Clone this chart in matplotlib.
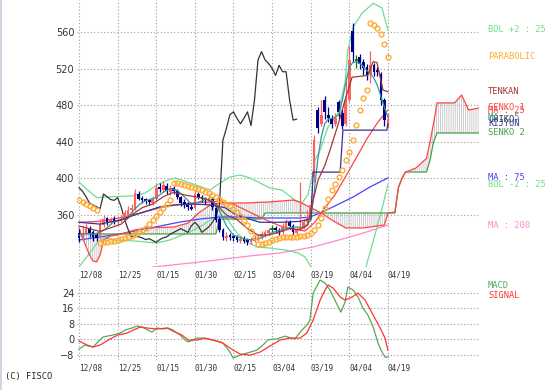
import numpy as np
import matplotlib
matplotlib.use('Agg')
import matplotlib.pyplot as plt
from matplotlib.lines import Line2D

# ---- price data (trading day index 0..88) ----
close = [
    335, 340, 345, 340, 336, 335, 350, 356, 352, 355,
    353, 354, 356, 362, 366, 368, 384, 378, 376, 375,
    374, 378, 390, 388, 393, 386, 390, 386, 380, 373,
    371, 369, 367, 383, 380, 377, 376, 379, 369, 355,
    344, 336, 337, 336, 335, 333, 334, 332, 330, 333,
    335, 336, 339, 341, 343, 345, 343, 341, 348, 352,
    348, 341, 344, 347, 352, 358, 371, 442, 455, 470,
    473, 466, 460, 466, 473, 458, 486, 530, 539, 530,
    526, 521, 513, 524, 517, 517, 486, 464, 465]
opens = [
    340, 336, 340, 346, 341, 338, 336, 349, 357, 352,
    356, 352, 354, 355, 360, 365, 367, 383, 379, 377,
    376, 373, 377, 391, 387, 392, 385, 390, 386, 380,
    374, 372, 369, 368, 383, 380, 378, 375, 378, 368,
    356, 343, 335, 338, 337, 336, 332, 335, 333, 330,
    332, 334, 336, 338, 340, 345, 346, 344, 341, 347,
    352, 348, 340, 344, 347, 352, 358, 402, 475, 460,
    486, 470, 466, 460, 484, 472, 460, 486, 562, 530,
    533, 528, 522, 514, 524, 519, 515, 486, 458]
high = [
    345, 348, 350, 348, 343, 340, 356, 360, 358, 358,
    359, 357, 360, 366, 370, 372, 388, 386, 381, 379,
    378, 381, 394, 395, 397, 395, 393, 392, 388, 381,
    377, 374, 372, 387, 385, 382, 380, 383, 380, 370,
    358, 346, 341, 340, 339, 338, 337, 337, 335, 336,
    338, 339, 342, 344, 346, 349, 348, 346, 351, 356,
    354, 350, 347, 396, 356, 366, 382, 448, 478, 486,
    490, 478, 470, 472, 486, 476, 511, 545, 570, 535,
    536, 531, 526, 540, 527, 522, 517, 488, 472]
low = [
    330, 333, 338, 336, 332, 331, 334, 347, 349, 350,
    350, 349, 352, 353, 358, 362, 366, 376, 373, 372,
    371, 371, 376, 385, 385, 383, 382, 383, 378, 370,
    368, 366, 365, 367, 377, 374, 372, 373, 366, 352,
    341, 333, 332, 333, 331, 330, 329, 329, 327, 328,
    330, 332, 334, 336, 338, 341, 340, 338, 339, 345,
    345, 338, 338, 343, 345, 350, 356, 396, 450, 458,
    465, 462, 455, 458, 465, 454, 458, 484, 528, 521,
    520, 513, 508, 505, 512, 512, 480, 458, 455]

parabolic = [
    376.4, 374.2, 372.1, 369.9, 367.7, 365.5, 329.3, 330.4, 330.4, 331.5,
    331.5, 332.6, 333.7, 334.8, 335.9, 337.0, 339.2, 341.4, 343.6, 345.8,
    350.1, 354.5, 358.9, 363.3, 367.7, 372.1, 376.4, 395.1, 395.1, 394.0,
    392.9, 391.8, 390.7, 389.6, 388.5, 387.4, 385.2, 384.1, 381.9, 379.7,
    377.5, 374.2, 372.1, 369.9, 366.6, 363.3, 358.9, 354.5, 349.0, 342.5,
    335.9, 328.2, 328.2, 329.3, 330.4, 332.6, 333.7, 334.8, 335.9, 335.9,
    335.9, 335.9, 335.9, 337.0, 337.0, 338.1, 340.3, 343.6, 349.0, 356.7,
    367.7, 377.5, 387.4, 394.0, 401.6, 409.3, 420.3, 429.0, 442.2, 458.6,
    475.1, 488.2, 497.0, 570.4, 568.2, 565.0, 558.4, 547.4, 533.2]

bol_up_days = [0, 2.6, 5.1, 8.8, 15.4, 18.8, 22.2, 25.1, 27.4, 32.5, 37.3, 40.2, 43, 45.9,
               48.7, 51.6, 54.4, 57.8, 61.5, 63.5, 65.2, 66.4, 67.2, 68.7, 70.9, 73.8,
               75.8, 76.6, 78.1, 80.6, 83.8, 86.3, 88]
bol_up = [396, 387, 379, 380, 381, 384, 393, 398, 400.6, 394, 387.4, 395, 401.6, 403.8,
          400.6, 395, 389.6, 387.4, 376.4, 373.2, 382, 401.6, 420, 431, 456, 472,
          505, 541, 566, 581, 592, 587, 563]
bol_dn_days = [0, 2.6, 5.1, 7.4, 10.3, 16, 22.2, 25.9, 31.6, 35.3, 38.2, 40.2, 42, 45, 47.9,
               50.7, 54.4, 58.7, 62.4, 64.4, 65.8, 67, 70, 74, 78, 81, 82.3, 84.3, 86.6, 88]
bol_dn = [303, 316, 329, 335, 332.6, 331.5, 329.3, 332.6, 341.4, 349, 356.7, 360, 356.7,
          340.3, 330.4, 324.9, 323.8, 321.6, 318.4, 314, 305.2, 296, 285, 275, 270, 292,
          310.7, 338, 371, 393]

tenkan_days = [0, 3, 6, 9, 12, 15, 18, 21, 24, 27, 30, 33, 36, 39, 42, 45, 48, 51, 54, 57,
               60, 63, 65.2, 66.7, 68.1, 70.1, 71.5, 73.8, 75.8, 77.8, 82.3, 83.8, 84.9,
               85.8, 86.6, 88]
tenkan = [348, 345, 342, 346, 350, 360, 368, 372, 380, 385, 382, 380, 378, 372, 360, 355,
          345, 338, 338, 341, 345, 344, 349, 376, 398, 415, 431, 459, 486, 511, 513, 528,
          527, 511, 497, 495]
kijun_days = [0, 6, 11.7, 17.4, 23.1, 27.4, 33, 37.3, 41.6, 44.4, 47.3, 51.6, 57.3, 63,
              66.1, 66.7, 74.4, 75.2, 87.7, 88]
kijun = [352, 350, 354.5, 362, 369, 371, 372, 371, 368, 361, 357, 352, 352, 353, 356, 407,
         407, 453, 453, 460]

senko_days = [0, 1, 3, 4, 5, 6, 7, 9, 11, 13, 16, 19, 27, 31, 34, 37, 39, 40, 42, 48, 52,
              53, 54, 61, 63, 66, 69, 72, 76, 81, 87, 88, 90, 91, 92, 93, 96, 99, 100, 101,
              102, 107, 109, 111, 114]
senko1 = [345.8, 335, 316, 309.6, 308.5, 316, 332.6, 337, 338, 340.3, 343.6, 345.8, 346.8,
          351, 362, 370, 372.5, 373, 373.2, 373.2, 374, 374, 374.2, 376.4, 374, 368, 362.2,
          354.5, 345.8, 345.8, 349, 362, 363.3, 390, 400, 407, 411.5, 422, 440, 460, 482.8,
          482.8, 491.5, 475, 477.3]
senko2 = [339.2, 339.2, 339.2, 339.2, 339.2, 339.2, 339.2, 339.2, 339.2, 339.2, 339.2,
          339.2, 339.2, 339.2, 339.2, 339.2, 339.2, 355.6, 355.6, 355.6, 355.6, 362.2,
          362.2, 362.2, 362.2, 362.2, 362.2, 362.2, 362.2, 362.2, 362.2, 362.2, 362.2,
          390, 400, 407.1, 407.1, 407.1, 420, 440, 449.9, 449.9, 449.9, 449.9, 449.9]

ma5_days = list(range(0, 67, 2)) + list(range(67, 89))
ma5 = [338, 340, 339, 341, 346, 353, 354, 358, 367, 374, 377, 379, 385, 389, 387, 380,
       372, 374, 377, 376, 365, 348, 338, 335, 333, 333, 335, 339, 342, 344, 346, 347,
       346, 354,
       385, 420, 445, 460, 465, 466, 467, 470, 485, 505, 522, 527, 528, 526, 523, 518,
       515, 510, 502, 490, 478, 467]
ma25_days = [0, 6, 11.7, 17.4, 23.1, 27.4, 31.6, 35.9, 40.2, 44.4, 48.7, 53, 57.3, 61.5,
             64.4, 67.2, 70.1, 72.9, 75.8, 78.6, 82.1, 85.2, 88]
ma25 = [352, 353, 357, 362, 368, 371, 373, 374, 375, 371, 363, 355, 348, 344, 342.5, 352,
        368, 382, 401, 420, 444, 462, 475]
ma75_days = [0, 6, 11.7, 17.4, 23.1, 28.8, 34.5, 40.2, 45.9, 51.6, 57.3, 63, 65.8, 68.7,
             73.5, 78.1, 82.9, 88]
ma75 = [332.6, 335.9, 339.2, 343.6, 347.9, 352.3, 355.6, 357.8, 357.8, 356.7, 356.7,
        356.7, 357.8, 362.2, 371, 379.7, 390.7, 400.6]
ma200_days = [17.4, 21.1, 34.5, 48.7, 57.3, 66.7, 77.2, 82.9, 88]
ma200 = [299.7, 303, 308.5, 315.1, 318.4, 324.9, 335.9, 342.5, 349]

macd_days = [0, 1.7, 4, 5.4, 6.8, 8, 9.7, 11.7, 13.1, 15.1, 16.5, 17.9, 19.7, 20.8, 22.2,
             23.9, 25.4, 26.8, 28.8, 30.2, 31.1, 33.6, 35.3, 39.3, 41, 43, 43.9, 45.9,
             47.9, 50.7, 52.4, 53.8, 55.3, 56.4, 58.7, 61.5, 63, 64.9, 65.8, 66.7, 68.7,
             70.1, 71.5, 72.9, 74.6, 75.8, 76.6, 78.1, 79.5, 80.9, 82.3, 83.8, 85.2, 86.3,
             87.2, 88]
macd = [-5.2, -3.1, -4.1, -1.5, 1, 1.5, 2.1, 3.1, 4.6, 5.7, 6.7, 6.2, 4.6, 3.6, 5.7, 5.2,
        5.7, 4.6, 2.1, -0.5, -1.5, 0.5, 0.5, -1, -2, -6.7, -9.8, -8.3, -7.2, -5.7, -3.1,
        -0.5, 0, 0, 1.5, 0, 3.6, 7.2, 9.8, 23.7, 30.4, 28.9, 25.3, 20.1, 13.9, 19.1, 26.8,
        25.3, 21.7, 16, 12.4, 6.2, -2.1, -6.7, -9.3, -9.3]
signal_days = [0, 2.3, 4, 6, 8.8, 11.1, 13.7, 15.4, 17.4, 19.4, 22.2, 25.1, 26.8, 29.3,
               31.1, 33.6, 35.9, 38.2, 41, 43.9, 45.9, 48.7, 51.6, 54.4, 57.3, 60.1, 63,
               64.9, 66.7, 68.7, 70.1, 71, 72.4, 74.4, 75.8, 77.8, 79.5, 81.5, 83.8, 85.8,
               87.2, 88]
signal = [-1, -3.1, -4.1, -3.1, 0, 2.1, 3.1, 4.6, 6.2, 5.7, 5.2, 5.7, 4.1, 2.1, -0.5, -0.5,
          0.5, -0.5, -2.1, -5.7, -7.7, -8.3, -6.7, -3.6, -0.5, 0.5, 0.5, 3.1, 9.8, 20.1,
          25.3, 27.9, 26.3, 21.7, 20.1, 21.7, 23.7, 20.1, 12.4, 5.7, 0.5, -5.7]

date_ticks = [0, 11, 22, 33, 44, 55, 66, 77, 88]
date_labels = ['12/08', '12/25', '01/15', '01/30', '02/15', '03/04', '03/19', '04/04', '04/19']
price_ticks = [360, 400, 440, 480, 520, 560]
macd_ticks = [-8, 0, 8, 16, 24]

# ---- colours ----
C_BOL = '#70dd90'
C_PAR = '#ffaa33'
C_TEN = '#a03838'
C_KIJ = '#333399'
C_S1 = '#ff4444'
C_S2 = '#44a044'
C_MA5 = '#339999'
C_MA25 = '#ff4444'
C_MA75 = '#4444ff'
C_MA200 = '#ff88cc'
MONO = 'DejaVu Sans Mono'

plt.rcParams['hatch.linewidth'] = 0.6

W, H = 558, 390
fig = plt.figure(figsize=(W / 100, H / 100), dpi=100)


def px_axes(l, t, r, b):
    '''axes placed by pixel box (left, top, right, bottom)'''
    return fig.add_axes([l / W, 1 - b / H, (r - l) / W, (b - t) / H])


XL = (-2 / 3.51, 400 / 3.51)
dotted = dict(color='#9a9a9a', linestyle=(0, (1, 2)), linewidth=0.8)


def style_axes(ax, yticks):
    for s in ax.spines.values():
        s.set_visible(False)
    ax.set_xlim(*XL)
    ax.set_xticks(date_ticks, date_labels)
    ax.set_yticks(yticks)
    ax.tick_params(length=0, labelsize=7, colors='#333333')
    ax.tick_params(axis='x', pad=2.5)
    ax.tick_params(axis='y', pad=2)
    for lab in ax.get_xticklabels():
        lab.set_ha('left')
        lab.set_family(MONO)
        lab.set_fontsize(5.6)
    ax.grid(True, **dotted)
    ax.set_axisbelow(True)


# ---- main price panel ----
ax = px_axes(77, 0, 479, 267)
style_axes(ax, price_ticks)
ax.set_ylim(303, 595.6)

ax.fill_between(senko_days, senko1, senko2, facecolor='none', edgecolor='#c4c4c4',
                hatch='|' * 8, linewidth=0, zorder=1)

days = np.arange(len(close))
ax.plot(ma200_days, ma200, color=C_MA200, lw=0.9, zorder=2)
ax.plot(bol_up_days, bol_up, color=C_BOL, lw=0.9, zorder=2)
ax.plot(bol_dn_days, bol_dn, color=C_BOL, lw=0.9, zorder=2)
ax.plot(ma75_days, ma75, color=C_MA75, lw=0.9, zorder=2)
ax.plot(senko_days, senko2, color=C_S2, lw=0.9, zorder=2)
ax.plot(senko_days, senko1, color=C_S1, lw=0.9, zorder=2)
ax.plot(ma25_days, ma25, color=C_MA25, lw=0.9, zorder=2)
ax.plot(days[26:] - 26, close[26:], color='#333333', lw=0.9, zorder=2)  # chiko span

# candles
o = np.array(opens)
c = np.array(close)
cols = np.where(c > o, '#ff5f5f', np.where(c < o, '#000088', '#007700'))
ax.vlines(days, low, high, colors=cols, lw=0.9, zorder=3)
ax.bar(days, np.abs(c - o), bottom=np.minimum(o, c), width=0.75, color=cols,
       linewidth=0, zorder=3)
flat = c == o
ax.hlines(c[flat], days[flat] - 0.45, days[flat] + 0.45, colors='#007700', lw=1.2, zorder=3)

ax.plot(ma5_days, ma5, color=C_MA5, lw=0.9, zorder=4)
ax.plot(kijun_days, kijun, color=C_KIJ, lw=0.9, zorder=4)
ax.plot(tenkan_days, tenkan, color=C_TEN, lw=0.9, zorder=4)
ax.plot(days, parabolic, 'o', ms=3.5, mfc='none', mec=C_PAR, mew=1.0, zorder=5)

# labels at the right, placed at each line's last value
lab_x = 116.5
right_labels = [
    ('BOL +2 : 25', bol_up[-1], C_BOL),
    ('PARABOLIC', parabolic[-1], C_PAR),
    ('TENKAN', tenkan[-1], C_TEN),
    ('SENKO 1', senko1[-1], C_S1),
    ('MA : 25', ma25[-1], C_MA25),
    ('CHIKO', close[-1], '#333333'),
    ('MA : 5', ma5[-1], C_MA5),
    ('KIJYUN', kijun[-1], C_KIJ),
    ('SENKO 2', senko2[-1], C_S2),
    ('MA : 75', ma75[-1], C_MA75),
    ('BOL -2 : 25', bol_dn[-1], C_BOL),
    ('MA : 200', ma200[-1], C_MA200),
]
for txt, yv, col in right_labels:
    ax.text(lab_x, yv, txt, color=col, fontsize=6.3, family=MONO, va='center',
            ha='left', clip_on=False)

# ---- MACD panel ----
ax2 = px_axes(77, 278, 479, 360)
style_axes(ax2, macd_ticks)
ax2.set_ylim(-10.8, 31.5)
ax2.plot(macd_days, macd, color='#55aa55', lw=0.9)
ax2.plot(signal_days, signal, color='#ff3333', lw=0.9)
ax2.text(lab_x, 27.5, 'MACD', color='#55aa55', fontsize=6.3, family=MONO, va='center',
         clip_on=False)
ax2.text(lab_x, 22.5, 'SIGNAL', color='#ff3333', fontsize=6.3, family=MONO, va='center',
         clip_on=False)

fig.text(5 / W, 1 - 377 / H, '(C) FISCO', fontsize=6.3, family=MONO, va='center',
         color='#222222')
fig.add_artist(Line2D([0.8 / W, 0.8 / W], [0, 1], color='#c8cede', lw=1.2,
                      transform=fig.transFigure))

fig.savefig('out.png', dpi=100)
